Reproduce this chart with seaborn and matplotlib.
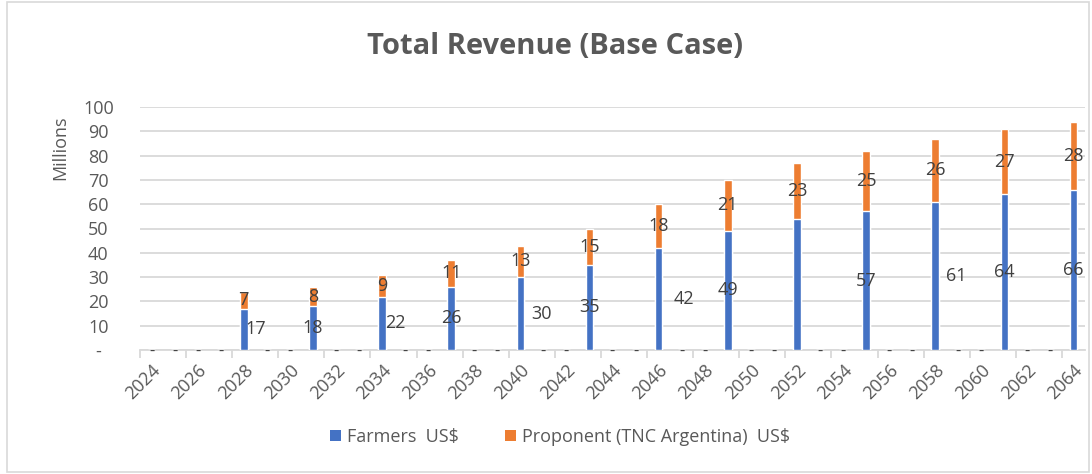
import numpy as np
import pandas as pd
import matplotlib
matplotlib.use("Agg")
import matplotlib.pyplot as plt
import seaborn as sns
from matplotlib.patches import Rectangle, Patch

# --- data (US$ millions) ---
years = list(range(2024, 2065))
farmers = [0, 0, 0, 0, 17, 0, 0, 18, 0, 0, 22, 0, 0, 26, 0, 0, 30, 0, 0, 35, 0,
           0, 42, 0, 0, 49, 0, 0, 54, 0, 0, 57, 0, 0, 61, 0, 0, 64, 0, 0, 66]
proponent = [0, 0, 0, 0, 7, 0, 0, 8, 0, 0, 9, 0, 0, 11, 0, 0, 13, 0, 0, 15, 0,
             0, 18, 0, 0, 21, 0, 0, 23, 0, 0, 25, 0, 0, 26, 0, 0, 27, 0, 0, 28]
series_names = ["Farmers  US$", "Proponent (TNC Argentina)  US$"]
y_ticks = [0, 10, 20, 30, 40, 50, 60, 70, 80, 90, 100]
y_tick_labels = ["-", "10", "20", "30", "40", "50", "60", "70", "80", "90", "100"]

# label nudges for the farmers values (as they were dragged in the original)
farmer_label_shift = [0.5, 0, 0.6, 0, 0.9, 0, 1.1, 0, None, 0, 0.9, 0, 0]

BLUE = "#4472C4"
ORANGE = "#ED7D31"
GREY = "#595959"
GRID = "#D9D9D9"

df = pd.DataFrame({"Year": [str(y) for y in years],
                   "Farmers": farmers,
                   "Proponent": proponent})
df["Total"] = df["Farmers"] + df["Proponent"]

sns.set_theme(style="white")
plt.rcParams["font.family"] = ["Open Sans", "DejaVu Sans"]

fig = plt.figure(figsize=(10.92, 4.74), dpi=100)
ax = fig.add_axes([140 / 1092, 1 - 350 / 474, 945 / 1092, 243 / 474])

order = df["Year"].tolist()
sns.barplot(data=df, x="Year", y="Total", order=order, color=ORANGE,
            width=0.33, saturation=1, ax=ax, zorder=3)
sns.barplot(data=df, x="Year", y="Farmers", order=order, color=BLUE,
            width=0.33, saturation=1, ax=ax, zorder=4)

# data labels
k = 0
for i, row in df.iterrows():
    if row["Total"] == 0:
        ax.text(i, -0.9, "-", ha="center", va="center", fontsize=12,
                color="#404040", zorder=5)
        continue
    shift = farmer_label_shift[k]
    if shift is not None:
        ax.text(i + shift, row["Farmers"] / 2, str(row["Farmers"]),
                ha="center", va="center", fontsize=13, color="#404040", zorder=5)
    ax.text(i, row["Farmers"] + row["Proponent"] / 2, str(row["Proponent"]),
            ha="center", va="center", fontsize=13, color="#404040", zorder=5)
    k += 1

ax.set_ylim(0, 100)
ax.set_xlim(-0.5, len(years) - 0.5)
ax.set_yticks(y_ticks)
ax.set_yticklabels(y_tick_labels)
ax.yaxis.grid(True, color=GRID, linewidth=1.3, zorder=0)
ax.set_axisbelow(True)

major = list(range(0, len(years), 2))
ax.set_xticks(major)
ax.set_xticklabels([str(years[i]) for i in major], rotation=45, ha="right",
                   rotation_mode="anchor")
ax.set_xticks(np.arange(-0.5, len(years), 2), minor=True)
ax.tick_params(axis="x", which="major", length=0, pad=8, labelsize=13,
               labelcolor=GREY)
ax.tick_params(axis="x", which="minor", length=6, width=1.3, color=GRID,
               direction="out", bottom=True)
ax.tick_params(axis="y", length=0, pad=30, labelsize=13, labelcolor=GREY)
for lab in ax.get_yticklabels():
    lab.set_horizontalalignment("center")

for s in ["top", "right", "left"]:
    ax.spines[s].set_visible(False)
ax.spines["bottom"].set_color(GRID)
ax.spines["bottom"].set_linewidth(1.3)
ax.set_xlabel("")
ax.set_ylabel("")

fig.text(555 / 1092, 1 - 47 / 474, "Total Revenue (Base Case)", ha="center",
         va="center", fontsize=21, fontweight="bold", color=GREY)
fig.text(60 / 1092, 1 - 148 / 474, "Millions", rotation=90, ha="center",
         va="center", fontsize=13, color=GREY)

handles = [Patch(facecolor=BLUE, edgecolor="none"),
           Patch(facecolor=ORANGE, edgecolor="none")]
fig.legend(handles, series_names, loc="center",
           bbox_to_anchor=(560 / 1092, 1 - 437 / 474), ncol=2, frameon=False,
           handlelength=0.6, handleheight=0.6, handletextpad=0.3,
           columnspacing=2.6, prop={"size": 13}, labelcolor=GREY)

fig.patches.append(Rectangle((7 / 1092, 2 / 474), 1082 / 1092, 470 / 474,
                             transform=fig.transFigure, fill=False,
                             edgecolor=GRID, linewidth=1.2))

fig.savefig("out.png", dpi=100)
